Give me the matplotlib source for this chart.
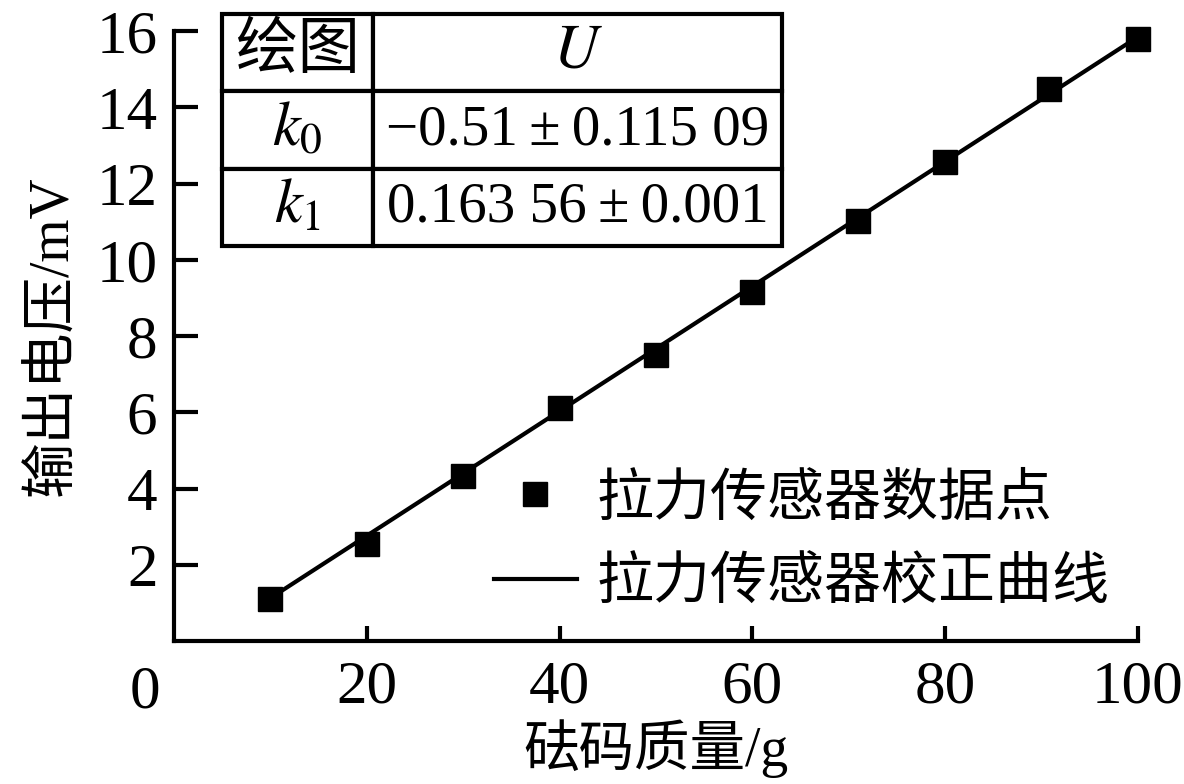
import matplotlib
matplotlib.use("Agg")
import matplotlib.pyplot as plt
import numpy as np

plt.rcParams['font.family'] = ['Liberation Serif', 'Noto Sans CJK SC']
plt.rcParams['mathtext.fontset'] = 'stix'

# data
mass = [10, 20, 30, 40, 50, 60, 71, 80, 90.8, 100]
voltage = [1.10, 2.54, 4.33, 6.11, 7.50, 9.15, 11.01, 12.56, 14.47, 15.78]
k0 = -0.51
k1 = 0.16356
fit_x = [10, 100]

x_ticks = [20, 40, 60, 80, 100]
y_ticks = [2, 4, 6, 8, 10, 12, 14, 16]

table_rows = [["绘图", "$U$"],
              ["$k_0$", "−0.51\u2009±\u20090.115 09"],
              ["$k_1$", "0.163 56\u2009±\u20090.001"]]

fig = plt.figure(figsize=(11.84, 7.84), dpi=100)
ax = fig.add_axes([0.147, 0.1824, 0.814, 0.778])

fit_y = k0 + k1 * np.array(fit_x)
ax.plot(mass, voltage, 's', color='black', markersize=17, clip_on=False,
        label='拉力传感器数据点')
ax.plot(fit_x, fit_y, '-', color='black', lw=3, clip_on=False,
        label='拉力传感器校正曲线')

ax.set_xlim(0, 100)
ax.set_ylim(0, 16)
ax.set_xticks(x_ticks)
ax.set_yticks(y_ticks)
ax.spines['top'].set_visible(False)
ax.spines['right'].set_visible(False)
for s in ['left', 'bottom']:
    ax.spines[s].set_linewidth(3)
ax.tick_params(axis='both', direction='in', width=3, labelsize=44)
ax.tick_params(axis='y', length=17, pad=12)
ax.tick_params(axis='x', length=11, pad=14)
ax.text(-0.03, -0.04, "0", transform=ax.transAxes, fontsize=44,
        ha='center', va='top')

ax.set_xlabel("砝码质量/g", fontsize=40, labelpad=2)
ax.set_ylabel("输出电压/mV", fontsize=40, labelpad=12)

tbl = ax.table(cellText=table_rows, colWidths=[151, 409], cellLoc='center',
               bbox=[0.0498, 0.6475, 0.5812, 0.3805])
tbl.auto_set_font_size(False)
for (r, c), cell in tbl.get_celld().items():
    cell.set_linewidth(3)
    cell.set_edgecolor('black')
    cell.set_clip_on(False)
    if c == 0 or r == 0:
        cell.get_text().set_fontsize(45)
    else:
        cell.get_text().set_fontsize(41)

ax.legend(loc='upper left', bbox_to_anchor=(0.332, 0.275), frameon=False,
          fontsize=41, handlelength=1.45, handletextpad=0.35, labelspacing=0.55,
          borderaxespad=0, borderpad=0)

fig.savefig("out.png", dpi=100)
